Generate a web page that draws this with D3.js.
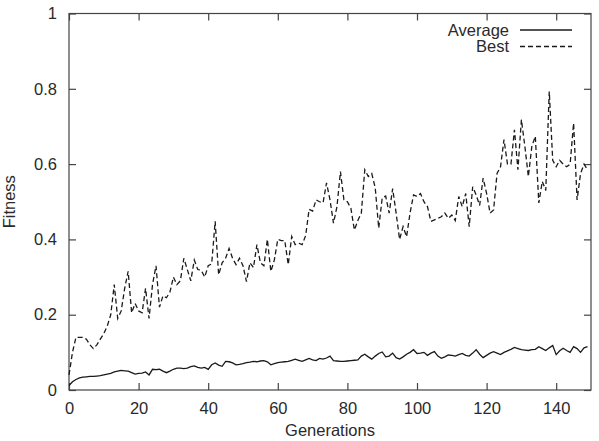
<!DOCTYPE html>
<html>
<head>
  <meta charset="UTF-8">
  <style>
    body { margin: 0; background: #fff; }
    svg text { font-family: "Liberation Sans", Arial, Helvetica, sans-serif; font-size: 16.5px; fill: #2a2a2a; }
    .frame { fill: none; stroke: #444; stroke-width: 1.2px; }
    .axis path { display: none; }
    .axis line { stroke: #444; stroke-width: 1.2px; }
  </style>
</head>
<body>
<svg id="chart"></svg>
<script src="https://d3js.org/d3.v7.min.js"></script>
<script>

// generations 0..149
let bestFitness = [
  0.04, 0.10, 0.14, 0.14, 0.14, 0.135, 0.12, 0.11, 0.12, 0.135,
  0.15, 0.17, 0.20, 0.28, 0.19, 0.21, 0.27, 0.315, 0.205, 0.23,
  0.21, 0.205, 0.27, 0.19, 0.28, 0.33, 0.22, 0.25, 0.245, 0.26,
  0.30, 0.28, 0.29, 0.35, 0.32, 0.29, 0.345, 0.32, 0.318, 0.30,
  0.33, 0.335, 0.448, 0.306, 0.338, 0.35, 0.376, 0.35, 0.333, 0.35,
  0.33, 0.288, 0.338, 0.325, 0.386, 0.338, 0.33, 0.40, 0.315, 0.345,
  0.40, 0.397, 0.397, 0.333, 0.408, 0.386, 0.39, 0.386, 0.41, 0.48,
  0.475, 0.505, 0.50, 0.497, 0.55, 0.505, 0.443, 0.487, 0.58, 0.505,
  0.50, 0.483, 0.425, 0.45, 0.47, 0.585, 0.567, 0.575, 0.537, 0.43,
  0.51, 0.515, 0.47, 0.535, 0.47, 0.40, 0.434, 0.407, 0.47, 0.518,
  0.514, 0.522, 0.50, 0.487, 0.448, 0.452, 0.456, 0.46, 0.47, 0.456,
  0.465, 0.45, 0.514, 0.487, 0.522, 0.434, 0.54, 0.518, 0.49, 0.563,
  0.522, 0.47, 0.478, 0.575, 0.593, 0.665, 0.60, 0.60, 0.691, 0.585,
  0.718, 0.647, 0.567, 0.647, 0.674, 0.497, 0.554, 0.53, 0.793, 0.61,
  0.593, 0.61, 0.60, 0.593, 0.60, 0.709, 0.505, 0.575, 0.60, 0.585
];

let averageFitness = [
  0.012, 0.022, 0.028, 0.032, 0.034, 0.035, 0.036, 0.036, 0.037, 0.038,
  0.040, 0.042, 0.044, 0.048, 0.050, 0.052, 0.051, 0.050, 0.046, 0.042,
  0.044, 0.045, 0.048, 0.040, 0.055, 0.054, 0.055, 0.050, 0.046, 0.050,
  0.055, 0.058, 0.058, 0.057, 0.058, 0.062, 0.064, 0.060, 0.058, 0.060,
  0.055, 0.067, 0.072, 0.066, 0.063, 0.076, 0.075, 0.072, 0.067, 0.068,
  0.070, 0.073, 0.074, 0.076, 0.075, 0.077, 0.078, 0.075, 0.067, 0.070,
  0.073, 0.074, 0.075, 0.076, 0.079, 0.082, 0.079, 0.076, 0.080, 0.084,
  0.080, 0.078, 0.084, 0.082, 0.085, 0.090, 0.078, 0.077, 0.076, 0.076,
  0.077, 0.078, 0.079, 0.080, 0.090, 0.095, 0.088, 0.082, 0.090, 0.097,
  0.101, 0.088, 0.090, 0.098, 0.086, 0.082, 0.088, 0.095, 0.100, 0.107,
  0.097, 0.098, 0.100, 0.092, 0.098, 0.102, 0.090, 0.084, 0.088, 0.093,
  0.092, 0.090, 0.094, 0.097, 0.092, 0.090, 0.098, 0.107, 0.095, 0.086,
  0.092, 0.098, 0.102, 0.098, 0.094, 0.100, 0.104, 0.108, 0.113, 0.110,
  0.107, 0.106, 0.105, 0.107, 0.108, 0.115, 0.110, 0.105, 0.112, 0.118,
  0.094, 0.104, 0.111, 0.105, 0.100, 0.115, 0.110, 0.100, 0.112, 0.115
];

let xTicks = [0, 20, 40, 60, 80, 100, 120, 140];
let yTicks = [0, 0.2, 0.4, 0.6, 0.8, 1];
let seriesNames = ["Average", "Best"];

let width = 599, height = 441;
let plotLeft = 69, plotRight = 591, plotTop = 13.5, plotBottom = 390;

let svg = d3.select("#chart")
    .attr("width", width)
    .attr("height", height);

let x = d3.scaleLinear().domain([0, 150]).range([plotLeft, plotRight]);
let y = d3.scaleLinear().domain([0, 1]).range([plotBottom, plotTop]);

// ticks pointing inward, mirrored on all four sides
svg.append("g").attr("class", "axis")
    .attr("transform", "translate(0," + plotBottom + ")")
    .call(d3.axisBottom(x).tickValues(xTicks).tickSizeInner(-7).tickSizeOuter(0).tickPadding(12));
svg.append("g").attr("class", "axis")
    .attr("transform", "translate(0," + plotTop + ")")
    .call(d3.axisTop(x).tickValues(xTicks).tickSizeInner(-7).tickSizeOuter(0).tickFormat(""));
svg.append("g").attr("class", "axis")
    .attr("transform", "translate(" + plotLeft + ",0)")
    .call(d3.axisLeft(y).tickValues(yTicks).tickSizeInner(-7).tickSizeOuter(0).tickPadding(12).tickFormat(d3.format("~g")));
svg.append("g").attr("class", "axis")
    .attr("transform", "translate(" + plotRight + ",0)")
    .call(d3.axisRight(y).tickValues(yTicks).tickSizeInner(-7).tickSizeOuter(0).tickFormat(""));

svg.selectAll(".axis text")
    .attr("fill", "#2a2a2a")
    .style("font-size", "16.5px")
    .style("font-family", '"Liberation Sans", Arial, sans-serif');

svg.append("rect")
    .attr("class", "frame")
    .attr("x", plotLeft).attr("y", plotTop)
    .attr("width", plotRight - plotLeft).attr("height", plotBottom - plotTop);

let line = d3.line()
    .x((d, i) => x(i))
    .y(d => y(d));

svg.append("path")
    .datum(averageFitness)
    .attr("d", line)
    .attr("fill", "none")
    .attr("stroke", "#1a1a1a")
    .attr("stroke-width", 1.3);

svg.append("path")
    .datum(bestFitness)
    .attr("d", line)
    .attr("fill", "none")
    .attr("stroke", "#1a1a1a")
    .attr("stroke-width", 1.3)
    .attr("stroke-dasharray", "5,3");

// legend
let legend = svg.append("g");
seriesNames.forEach((name, i) => {
    let ly = 30 + i * 16.5;
    legend.append("text")
        .attr("x", 509).attr("y", ly)
        .attr("dy", "0.35em")
        .attr("text-anchor", "end")
        .text(name);
    legend.append("line")
        .attr("x1", 520).attr("x2", 572)
        .attr("y1", ly).attr("y2", ly)
        .attr("stroke", "#1a1a1a")
        .attr("stroke-width", 1.3)
        .attr("stroke-dasharray", i == 1 ? "5,3" : null);
});

svg.append("text")
    .attr("x", (plotLeft + plotRight) / 2)
    .attr("y", 436)
    .attr("text-anchor", "middle")
    .text("Generations");

svg.append("text")
    .attr("transform", "translate(15," + ((plotTop + plotBottom) / 2) + ") rotate(-90)")
    .attr("text-anchor", "middle")
    .text("Fitness");

</script>
</body>
</html>
